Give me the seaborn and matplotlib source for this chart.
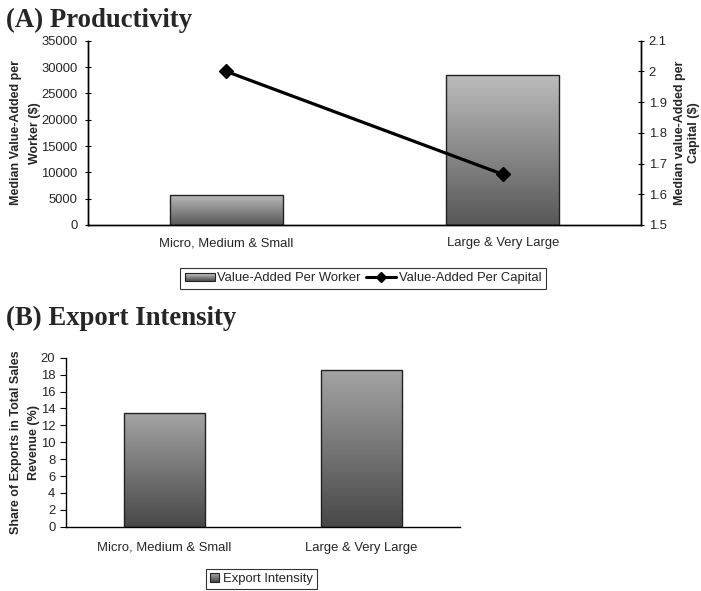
import numpy as np
import pandas as pd
import matplotlib
matplotlib.use("Agg")
import matplotlib.pyplot as plt
from matplotlib.colors import LinearSegmentedColormap
from matplotlib.lines import Line2D
from matplotlib.patches import Rectangle
from matplotlib.legend_handler import HandlerPatch
import seaborn as sns

# Firm-size groups
categories = ["Micro, Medium & Small", "Large & Very Large"]

# (A) Productivity
value_added_per_worker = [5700, 28500]      # median $, left axis
value_added_per_capital = [2.0, 1.665]      # median $, right axis

# (B) Export intensity
export_intensity = [13.5, 18.5]             # % of total sales revenue

prod_df = pd.DataFrame({"group": categories,
                        "worker": value_added_per_worker,
                        "capital": value_added_per_capital})
exp_df = pd.DataFrame({"group": categories, "export": export_intensity})

sns.set_theme(style="white")
plt.rcParams["font.family"] = ["Liberation Sans", "DejaVu Sans"]
plt.rcParams["axes.linewidth"] = 1.0

TICK_FS = 9.4
LABEL_FS = 9.0
TITLE_FS = 19.3

fig = plt.figure(figsize=(7.01, 5.91), dpi=100)
axA = fig.add_axes([0.1255, 0.6193, 0.7889, 0.3118])
axB = fig.add_axes([0.0937, 0.1088, 0.5625, 0.2859])


def gradient_fill(ax, top, bottom):
    """Replace each bar's flat colour with a vertical grey gradient."""
    cmap = LinearSegmentedColormap.from_list("g", [bottom, top])
    grad = np.linspace(0, 1, 256).reshape(-1, 1)
    for p in ax.patches:
        x0, y0 = p.get_x(), p.get_y()
        w, h = p.get_width(), p.get_height()
        im = ax.imshow(grad, cmap=cmap, origin="lower", aspect="auto",
                       extent=[x0, x0 + w, y0, y0 + h], zorder=p.get_zorder(),
                       interpolation="bicubic")
        im.set_clip_path(p)
        p.set_facecolor("none")
        p.set_edgecolor("#222222")
        p.set_linewidth(1.0)
        p.set_zorder(p.get_zorder() + 0.1)


class GradientHandler(HandlerPatch):
    def __init__(self, top, bottom, **kw):
        super().__init__(**kw)
        self.top, self.bottom = top, bottom

    def create_artists(self, legend, orig_handle, xdescent, ydescent,
                       width, height, fontsize, trans):
        artists = []
        n = 12
        cmap = LinearSegmentedColormap.from_list("g", [self.bottom, self.top])
        for i in range(n):
            r = Rectangle((-xdescent, -ydescent + height * i / n), width,
                          height / n + 0.05, facecolor=cmap(i / (n - 1)),
                          edgecolor="none", transform=trans)
            artists.append(r)
        border = Rectangle((-xdescent, -ydescent), width, height,
                           facecolor="none", edgecolor="#222222", lw=0.8,
                           transform=trans)
        artists.append(border)
        return artists


def style_category_axis(ax, n, pad):
    ax.set_xlim(-0.5, n - 0.5)
    ax.set_xticks(range(n))
    ax.set_xticklabels(categories, fontsize=TICK_FS)
    ax.tick_params(axis="x", which="major", length=0, pad=pad)
    ax.set_xticks(np.arange(-0.5, n, 1.0), minor=True)
    ax.tick_params(axis="x", which="minor", length=5, direction="inout",
                   width=0.8, color="black")
    ax.set_xlabel("")


# ---------------- (A) Productivity ----------------
sns.barplot(data=prod_df, x="group", y="worker", ax=axA, width=0.41,
            color="#999999", saturation=1)
gradient_fill(axA, "#bdbdbd", "#585858")
axA.set_ylim(0, 35000)
axA.set_yticks(range(0, 35001, 5000))
axA.tick_params(axis="y", labelsize=TICK_FS, length=5, direction="inout",
                width=0.8, color="black", left=True, pad=5)
axA.set_ylabel("Median Value-Added per\nWorker ($)", fontsize=LABEL_FS,
               fontweight="bold", labelpad=0.5, linespacing=1.7)
style_category_axis(axA, len(categories), pad=9)
axA.spines["top"].set_visible(False)
for s in ["left", "bottom", "right"]:
    axA.spines[s].set_color("black")

axA2 = axA.twinx()
axA2.plot(range(len(categories)), prod_df["capital"], color="black", lw=2.3,
          marker="D", markersize=7, zorder=5)
axA2.set_ylim(1.5, 2.1)
axA2.set_yticks(np.arange(1.5, 2.101, 0.1))
axA2.set_yticklabels(["1.5", "1.6", "1.7", "1.8", "1.9", "2", "2.1"])
axA2.tick_params(axis="y", labelsize=TICK_FS, length=5, direction="inout",
                 width=0.8, color="black", right=True, pad=3)
axA2.set_ylabel("Median value-Added per\nCapital ($)", fontsize=LABEL_FS,
                fontweight="bold", labelpad=5, linespacing=1.3)
axA2.spines["top"].set_visible(False)
for s in ["left", "bottom", "right"]:
    axA2.spines[s].set_color("black")

bar_handle_A = Rectangle((0, 0), 1, 1)
line_handle_A = Line2D([], [], color="black", lw=2.2, marker="D", markersize=5)
legA = axA.legend([bar_handle_A, line_handle_A],
                  ["Value-Added Per Worker", "Value-Added Per Capital"],
                  handler_map={bar_handle_A: GradientHandler("#c4c4c4", "#555555")},
                  loc="center", bbox_to_anchor=(0.497, -0.29), ncol=2,
                  fontsize=TICK_FS, frameon=True, fancybox=False,
                  edgecolor="black", handlelength=2.3, handleheight=0.5,
                  handletextpad=0.2, columnspacing=0.4, borderpad=0.35,
                  borderaxespad=0)
legA.get_frame().set_linewidth(0.8)

fig.text(0.009, 0.955, "(A) Productivity", fontsize=TITLE_FS, fontweight="bold",
         family=["Liberation Serif", "DejaVu Serif"], ha="left", va="baseline")

# ---------------- (B) Export Intensity ----------------
sns.barplot(data=exp_df, x="group", y="export", ax=axB, width=0.41,
            color="#888888", saturation=1)
gradient_fill(axB, "#a4a4a4", "#484848")
axB.set_ylim(0, 20)
axB.set_yticks(range(0, 21, 2))
axB.tick_params(axis="y", labelsize=TICK_FS, length=4, direction="out",
                width=0.8, color="black", left=True, pad=3.5)
axB.set_ylabel("Share of Exports in Total Sales\nRevenue (%)",
               fontsize=LABEL_FS, fontweight="bold", labelpad=0.5, linespacing=1.7)
style_category_axis(axB, len(categories), pad=11)
axB.tick_params(axis="x", which="minor", direction="out", length=4)
for s in ["top", "right"]:
    axB.spines[s].set_visible(False)
for s in ["left", "bottom"]:
    axB.spines[s].set_color("black")

bar_handle_B = Rectangle((0, 0), 1, 1)
legB = axB.legend([bar_handle_B], ["Export Intensity"],
                  handler_map={bar_handle_B: GradientHandler("#a4a4a4", "#484848")},
                  loc="center", bbox_to_anchor=(0.497, -0.31),
                  fontsize=TICK_FS, frameon=True, fancybox=False,
                  edgecolor="black", handlelength=0.7, handleheight=0.7,
                  handletextpad=0.3, borderpad=0.3, borderaxespad=0)
legB.get_frame().set_linewidth(0.8)

fig.text(0.009, 0.45, "(B) Export Intensity", fontsize=TITLE_FS, fontweight="bold",
         family=["Liberation Serif", "DejaVu Serif"], ha="left", va="baseline")

fig.savefig("out.png", dpi=100, facecolor="white")
